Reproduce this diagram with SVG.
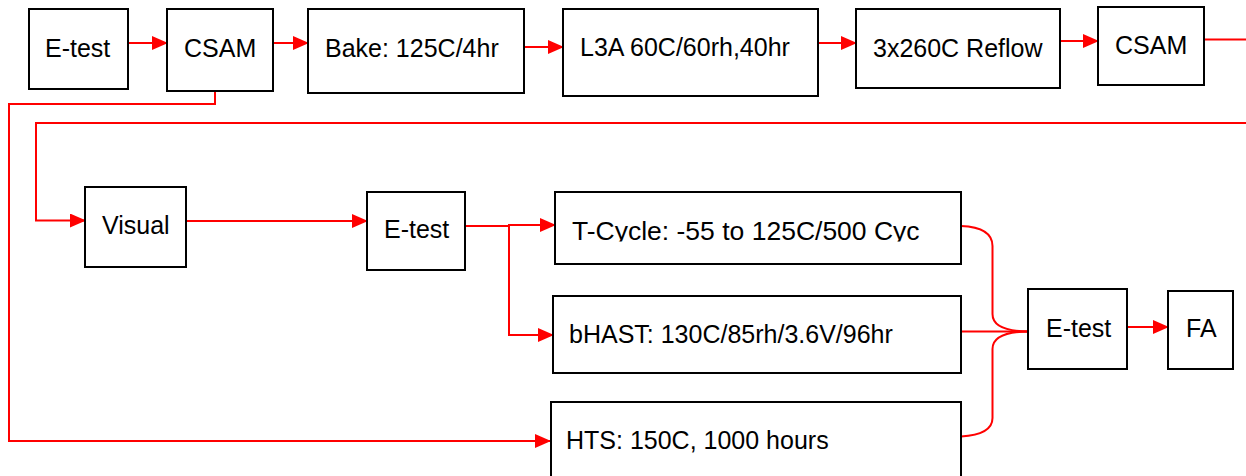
<svg xmlns="http://www.w3.org/2000/svg" width="1246" height="476" viewBox="0 0 1246 476">
<style>
.box rect{fill:#fff;stroke:#000;stroke-width:2}
.box text{font-family:"Liberation Sans",Arial,sans-serif;font-size:25px;fill:#000}
.c path{fill:none;stroke:#ff0000;stroke-width:2}
.c path.a{marker-end:url(#ah)}
</style>
<defs>
<marker id="ah" markerUnits="userSpaceOnUse" markerWidth="16" markerHeight="14" refX="15" refY="7" orient="auto">
<path d="M0,0 L16,7 L0,14 z" fill="#ff0000"/>
</marker>
<clipPath id="tcClip"><rect x="556" y="193" width="404" height="48.5"/></clipPath>
</defs>
<g id="connectors" class="c">
<path class="a" d="M128,43 H167"/>
<path class="a" d="M273,43 H308"/>
<path class="a" d="M524,47 H563"/>
<path class="a" d="M818,43 H856"/>
<path class="a" d="M1060,41 H1098"/>
<path d="M1204,39.5 H1246"/>
<path class="a" d="M1246,123 H36 V220.5 H85"/>
<path class="a" d="M186,221 H367"/>
<path class="a" d="M465,226 H509 V225 H555"/>
<path class="a" d="M509,226 V335 H553"/>
<path d="M215,91 V104 H9 V441 H550"/>
<path d="M541,441 H550" class="a"/>
<path d="M961,226 C985,227 992.5,235 992.5,246 V314 C992.5,325 1005,331.5 1030,331.5"/>
<path d="M961,331.5 H1030"/>
<path d="M961,436.5 C985,435 992.5,427 992.5,418 V349 C992.5,338 1005,331.5 1030,331.5"/>
<path class="a" d="M1127,327 H1168"/>
</g>
<g id="n1" class="box"><rect x="29" y="9" width="99" height="80"/><text x="45" y="57">E-test</text></g>
<g id="n2" class="box"><rect x="167" y="9" width="106" height="82"/><text x="184" y="57">CSAM</text></g>
<g id="n3" class="box"><rect x="308" y="9" width="216" height="84"/><text x="325" y="57">Bake: 125C/4hr</text></g>
<g id="n4" class="box"><rect x="563" y="9" width="255" height="87"/><text x="580" y="56">L3A 60C/60rh,40hr</text></g>
<g id="n5" class="box"><rect x="856" y="9" width="204" height="79"/><text x="873" y="57">3x260C Reflow</text></g>
<g id="n6" class="box"><rect x="1098" y="7" width="106" height="78"/><text x="1115" y="54">CSAM</text></g>
<g id="n7" class="box"><rect x="85" y="187" width="101" height="80"/><text x="102" y="234">Visual</text></g>
<g id="n8" class="box"><rect x="367" y="192" width="98" height="78"/><text x="384" y="238">E-test</text></g>
<g id="n9" class="box"><rect x="555" y="192" width="406" height="72"/><text x="572" y="240" style="font-size:26.5px" clip-path="url(#tcClip)">T-Cycle: -55 to 125C/500 Cyc</text></g>
<g id="n10" class="box"><rect x="553" y="296" width="408" height="77"/><text x="569" y="343">bHAST: 130C/85rh/3.6V/96hr</text></g>
<g id="n11" class="box"><rect x="551" y="402" width="410" height="80"/><text x="566" y="449">HTS: 150C, 1000 hours</text></g>
<g id="n12" class="box"><rect x="1028" y="289" width="99" height="80"/><text x="1046" y="337">E-test</text></g>
<g id="n13" class="box"><rect x="1168" y="291" width="65" height="78"/><text x="1186" y="337">FA</text></g>
</svg>
